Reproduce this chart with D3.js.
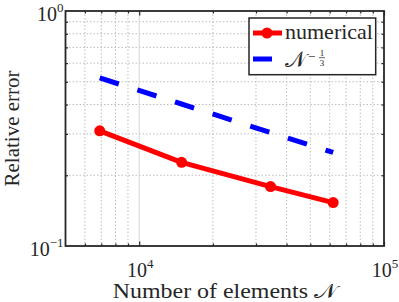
<!DOCTYPE html>
<html>
<head>
<meta charset="utf-8">
<script src="https://cdn.jsdelivr.net/npm/d3@7"></script>
<style>
  html, body { margin: 0; padding: 0; background: #fff; }
  svg { display: block; }
  text { font-family: "Liberation Serif", "DejaVu Serif", serif; fill: #262626; }
</style>
</head>
<body>
<svg id="chart" width="399" height="302"></svg>
<script>
// ---- data ----
const elements = [6900, 14900, 34400, 62000];
const numerical = [0.309, 0.227, 0.179, 0.153];
const reference = [0.519, 0.402, 0.304, 0.250];
const xMajorTicks = [1e4, 1e5];
const xMajorExp = ["4", "5"];
const yMajorTicks = [0.1, 1];
const yMajorExp = ["-1", "0"];
const xMinorTicks = [6000, 7000, 8000, 9000, 20000, 30000, 40000, 50000, 60000, 70000, 80000, 90000];
const yMinorTicks = [0.2, 0.3, 0.4, 0.5, 0.6, 0.7, 0.8, 0.9];
const legendLabels = ["numerical", "\u{1D4A9}"];

const svg = d3.select("#chart");
const L = 65.5, R = 384, T = 11, B = 246;
const x = d3.scaleLog().domain([5000, 1e5]).range([L, R]);
const y = d3.scaleLog().domain([0.1, 1]).range([B, T]);
const axisColor = "#262626";
const serif = "'Liberation Serif', 'DejaVu Serif', serif";

// background
svg.append("rect").attr("x", L).attr("y", T).attr("width", R - L).attr("height", B - T).attr("fill", "#fff");

// grid
const grid = svg.append("g");
grid.selectAll(".vmin").data(xMinorTicks).join("line")
  .attr("x1", d => x(d)).attr("x2", d => x(d)).attr("y1", T).attr("y2", B)
  .attr("stroke", "#bdbdbd").attr("stroke-width", 1).attr("stroke-dasharray", "1.5,2");
grid.selectAll(".hmin").data(yMinorTicks).join("line")
  .attr("y1", d => y(d)).attr("y2", d => y(d)).attr("x1", L).attr("x2", R)
  .attr("stroke", "#bdbdbd").attr("stroke-width", 1).attr("stroke-dasharray", "1.5,2");
grid.selectAll(".vmaj").data(xMajorTicks.filter(d => x(d) < R - 1)).join("line")
  .attr("x1", d => x(d)).attr("x2", d => x(d)).attr("y1", T).attr("y2", B)
  .attr("stroke", "#dcdcdc").attr("stroke-width", 1.2);

// axes with inward ticks on all four sides
function addAxis(axisGen, transform) {
  const g = svg.append("g").attr("transform", transform).call(axisGen);
  g.selectAll("text").remove();
  g.select(".domain").remove();
  g.selectAll("line").attr("stroke", axisColor).attr("stroke-width", 1.2);
  return g;
}
addAxis(d3.axisBottom(x).tickValues(xMinorTicks).tickSize(-2.5).tickFormat(""), `translate(0,${B})`);
addAxis(d3.axisBottom(x).tickValues(xMajorTicks).tickSize(-4.5).tickFormat(""), `translate(0,${B})`);
addAxis(d3.axisTop(x).tickValues(xMinorTicks).tickSize(-2.5).tickFormat(""), `translate(0,${T})`);
addAxis(d3.axisTop(x).tickValues(xMajorTicks).tickSize(-4.5).tickFormat(""), `translate(0,${T})`);
addAxis(d3.axisLeft(y).tickValues(yMinorTicks).tickSize(-2.5).tickFormat(""), `translate(${L},0)`);
addAxis(d3.axisRight(y).tickValues(yMinorTicks).tickSize(-2.5).tickFormat(""), `translate(${R},0)`);

// frame
svg.append("rect").attr("x", L).attr("y", T).attr("width", R - L).attr("height", B - T)
  .attr("fill", "none").attr("stroke", axisColor).attr("stroke-width", 1.8);

// tick labels
function powLabel(g, px, py, exp, anchor) {
  const t = g.append("text").attr("x", px).attr("y", py).attr("text-anchor", anchor)
    .attr("font-family", serif).attr("font-size", 20);
  t.append("tspan").text("10");
  t.append("tspan").attr("dy", -9).attr("font-size", 13).text(exp.replace("-", "\u2212"));
  return t;
}
const lab = svg.append("g");
xMajorTicks.forEach((d, i) => powLabel(lab, x(d) + 1, 277, xMajorExp[i], "middle"));
yMajorTicks.forEach((d, i) => powLabel(lab, L - 2, y(d) + 10, yMajorExp[i], "end"));

// axis labels
svg.append("text").attr("x", (L + R) / 2).attr("y", 298).attr("text-anchor", "middle")
  .attr("font-family", serif).attr("font-size", 21)
  .attr("textLength", 224).attr("lengthAdjust", "spacingAndGlyphs")
  .text("Number of elements \u{1D4A9}");
svg.append("text").attr("transform", `translate(19,${(T + B) / 2}) rotate(-90)`)
  .attr("text-anchor", "middle").attr("font-family", serif).attr("font-size", 21)
  .text("Relative error");

// series
const pts = elements.map((n, i) => ({ n, num: numerical[i], ref: reference[i] }));
svg.append("path").datum(pts)
  .attr("d", d3.line().x(d => x(d.n)).y(d => y(d.ref)))
  .attr("fill", "none").attr("stroke", "#0000ff").attr("stroke-width", 5)
  .attr("stroke-dasharray", "20,19.5");
svg.append("path").datum(pts)
  .attr("d", d3.line().x(d => x(d.n)).y(d => y(d.num)))
  .attr("fill", "none").attr("stroke", "#ff0000").attr("stroke-width", 5).attr("stroke-linejoin", "round");
svg.selectAll(".mk").data(pts).join("circle")
  .attr("cx", d => x(d.n)).attr("cy", d => y(d.num)).attr("r", 5.5).attr("fill", "#ff0000");

// legend
const lg = svg.append("g");
lg.append("rect").attr("x", 249).attr("y", 18).attr("width", 126.7).attr("height", 56.7)
  .attr("fill", "#fff").attr("stroke", axisColor).attr("stroke-width", 1.5);
lg.append("line").attr("x1", 253).attr("x2", 282).attr("y1", 33).attr("y2", 33)
  .attr("stroke", "#ff0000").attr("stroke-width", 5);
lg.append("circle").attr("cx", 267).attr("cy", 33).attr("r", 5.5).attr("fill", "#ff0000");
lg.append("text").attr("x", 285).attr("y", 39).attr("font-family", serif).attr("font-size", 22).text(legendLabels[0]);
lg.append("line").attr("x1", 253).attr("x2", 272).attr("y1", 59).attr("y2", 59)
  .attr("stroke", "#0000ff").attr("stroke-width", 5);
lg.append("text").attr("x", 285).attr("y", 67).attr("font-family", serif).attr("font-size", 22).text(legendLabels[1]);
lg.append("text").attr("x", 308).attr("y", 61).attr("font-family", serif).attr("font-size", 13).text("\u2212");
lg.append("text").attr("x", 322).attr("y", 56).attr("font-family", serif).attr("font-size", 9).attr("text-anchor", "middle").text("1");
lg.append("line").attr("x1", 319).attr("x2", 325).attr("y1", 57.7).attr("y2", 57.7).attr("stroke", axisColor).attr("stroke-width", 0.7);
lg.append("text").attr("x", 322).attr("y", 65.5).attr("font-family", serif).attr("font-size", 9).attr("text-anchor", "middle").text("3");
</script>
</body>
</html>
